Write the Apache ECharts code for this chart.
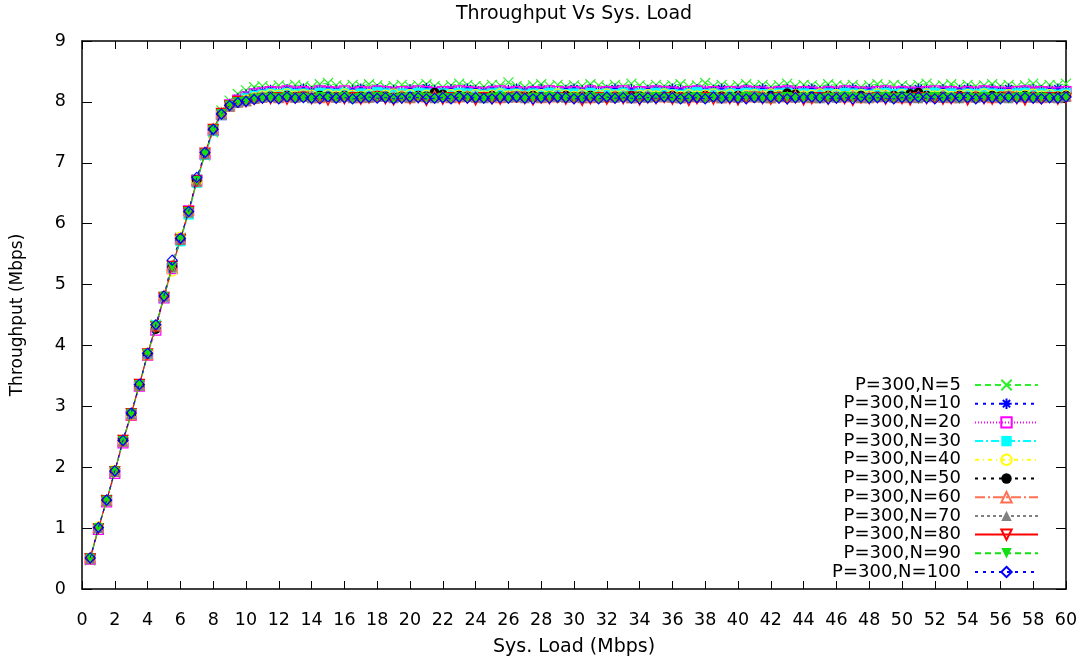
<!DOCTYPE html>
<html>
<head>
<meta charset="utf-8">
<script src="https://cdn.jsdelivr.net/npm/echarts@6/dist/echarts.min.js"></script>
<style>html,body{margin:0;padding:0;background:#fff}#c{width:1089px;height:662px}</style>
</head>
<body>
<div id="c"></div>
<script>
const titleText = 'Throughput Vs Sys. Load';
const xName = 'Sys. Load (Mbps)';
const yName = 'Throughput (Mbps)';
const seriesNames = ['P=300,N=5','P=300,N=10','P=300,N=20','P=300,N=30','P=300,N=40','P=300,N=50','P=300,N=60','P=300,N=70','P=300,N=80','P=300,N=90','P=300,N=100'];

const loads = [0.5,1,1.5,2,2.5,3,3.5,4,4.5,5,5.5,6,6.5,7,7.5,8,8.5,9,9.5,10,
10.5,11,11.5,12,12.5,13,13.5,14,14.5,15,15.5,16,16.5,17,17.5,18,18.5,19,19.5,20,
20.5,21,21.5,22,22.5,23,23.5,24,24.5,25,25.5,26,26.5,27,27.5,28,28.5,29,29.5,30,
30.5,31,31.5,32,32.5,33,33.5,34,34.5,35,35.5,36,36.5,37,37.5,38,38.5,39,39.5,40,
40.5,41,41.5,42,42.5,43,43.5,44,44.5,45,45.5,46,46.5,47,47.5,48,48.5,49,49.5,50,
50.5,51,51.5,52,52.5,53,53.5,54,54.5,55,55.5,56,56.5,57,57.5,58,58.5,59,59.5,60];

const n5 = [0.47,0.98,1.47,1.91,2.45,2.86,3.37,3.84,4.34,4.78,5.27,5.77,6.16,6.73,7.12,7.50,7.86,8.02,8.13,
8.19,8.24,8.26,8.23,8.27,8.25,8.28,8.26,8.24,8.29,
8.31,8.27,8.25,8.28,8.26,8.29,8.27,8.24,8.26,8.28,
8.25,8.27,8.29,8.26,8.24,8.27,8.30,8.28,8.26,8.25,
8.28,8.27,8.32,8.26,8.24,8.27,8.29,8.26,8.28,8.25,
8.27,8.26,8.29,8.27,8.24,8.28,8.26,8.30,8.27,8.25,
8.28,8.26,8.27,8.29,8.25,8.27,8.31,8.26,8.28,8.24,
8.27,8.29,8.26,8.28,8.25,8.27,8.30,8.26,8.28,8.27,
8.25,8.29,8.27,8.26,8.28,8.24,8.27,8.29,8.26,8.28,
8.27,8.25,8.28,8.30,8.26,8.27,8.29,8.25,8.28,8.26,
8.27,8.29,8.26,8.28,8.25,8.27,8.30,8.26,8.28,8.27,8.30];

const n10 = [0.50,1.01,1.44,1.94,2.42,2.89,3.34,3.87,4.31,4.81,5.30,5.72,6.20,6.68,7.16,7.55,7.81,7.97,8.06,
8.12,8.16,8.18,8.20,8.17,8.21,8.19,8.22,8.18,8.20,
8.21,8.19,8.17,8.20,8.22,8.18,8.21,8.19,8.20,8.17,
8.21,8.19,8.23,8.20,8.18,8.21,8.19,8.22,8.20,8.18,
8.21,8.19,8.20,8.22,8.18,8.20,8.21,8.19,8.17,8.20,
8.22,8.19,8.21,8.18,8.20,8.22,8.19,8.21,8.18,8.20,
8.21,8.19,8.22,8.20,8.18,8.21,8.19,8.20,8.22,8.18,
8.20,8.21,8.19,8.22,8.18,8.20,8.21,8.19,8.20,8.22,
8.18,8.21,8.19,8.20,8.22,8.18,8.21,8.19,8.20,8.17,
8.21,8.19,8.22,8.20,8.18,8.21,8.19,8.20,8.22,8.18,
8.20,8.21,8.19,8.22,8.18,8.20,8.21,8.19,8.20,8.22,8.19];

const n20 = [0.49,0.98,1.43,1.90,2.40,2.85,3.33,3.84,4.25,4.78,5.26,5.75,6.21,6.71,7.14,7.53,7.79,7.95,8.03,
8.08,8.13,8.15,8.17,8.16,8.18,8.16,8.17,8.15,8.18,
8.17,8.16,8.18,8.15,8.17,8.16,8.18,8.17,8.15,8.17,
8.16,8.18,8.17,8.15,8.17,8.16,8.18,8.17,8.16,8.15,
8.17,8.18,8.16,8.17,8.15,8.17,8.16,8.18,8.17,8.16,
8.17,8.15,8.18,8.16,8.17,8.16,8.18,8.15,8.17,8.16,
8.18,8.17,8.16,8.15,8.17,8.18,8.16,8.17,8.15,8.17,
8.16,8.18,8.17,8.16,8.15,8.17,8.18,8.16,8.17,8.16,
8.15,8.17,8.16,8.18,8.17,8.16,8.15,8.17,8.18,8.16,
8.17,8.16,8.15,8.17,8.18,8.16,8.17,8.15,8.17,8.16,
8.18,8.17,8.16,8.15,8.17,8.18,8.16,8.17,8.16,8.15,8.17];

const n30 = [0.51,1.00,1.46,1.93,2.44,2.88,3.36,3.86,4.33,4.79,5.28,5.71,6.15,6.67,7.13,7.52,7.78,7.93,8.01,
8.06,8.10,8.12,8.14,8.13,8.15,8.13,8.14,8.12,8.15,
8.14,8.13,8.15,8.12,8.14,8.13,8.16,8.14,8.12,8.14,
8.13,8.15,8.14,8.12,8.14,8.13,8.15,8.14,8.13,8.12,
8.14,8.15,8.13,8.14,8.12,8.14,8.13,8.15,8.14,8.13,
8.14,8.12,8.15,8.13,8.14,8.13,8.15,8.12,8.14,8.13,
8.15,8.14,8.13,8.12,8.14,8.16,8.13,8.14,8.12,8.14,
8.13,8.15,8.14,8.13,8.12,8.14,8.15,8.13,8.14,8.13,
8.12,8.14,8.13,8.15,8.14,8.13,8.12,8.14,8.15,8.13,
8.14,8.13,8.12,8.14,8.15,8.13,8.14,8.12,8.14,8.13,
8.15,8.14,8.13,8.12,8.14,8.15,8.13,8.14,8.13,8.12,8.14];

const n40 = [0.50,1.02,1.45,1.95,2.43,2.87,3.35,3.88,4.31,4.80,5.22,5.78,6.18,6.69,7.16,7.56,7.80,7.94,8.00,
8.03,8.07,8.10,8.12,8.11,8.13,8.10,8.12,8.11,8.09,
8.12,8.10,8.13,8.11,8.09,8.12,8.10,8.11,8.13,8.10,
8.12,8.09,8.11,8.13,8.10,8.12,8.11,8.09,8.12,8.10,
8.11,8.13,8.10,8.12,8.09,8.11,8.12,8.10,8.13,8.11,
8.09,8.12,8.10,8.11,8.13,8.10,8.12,8.09,8.11,8.12,
8.10,8.13,8.11,8.09,8.12,8.10,8.11,8.13,8.10,8.12,
8.09,8.11,8.12,8.10,8.13,8.11,8.09,8.12,8.10,8.11,
8.13,8.10,8.12,8.09,8.11,8.12,8.10,8.13,8.11,8.09,
8.12,8.10,8.11,8.13,8.10,8.12,8.09,8.11,8.12,8.10,
8.13,8.11,8.09,8.12,8.10,8.11,8.13,8.10,8.12,8.09,8.11];

const n50 = [0.50,1.00,1.45,1.93,2.45,2.88,3.33,3.86,4.27,4.81,5.29,5.74,6.19,6.72,7.15,7.55,7.80,7.95,7.98,
8.02,8.05,8.07,8.09,8.08,8.10,8.08,8.09,8.07,8.10,
8.09,8.08,8.10,8.07,8.09,8.08,8.10,8.09,8.07,8.09,
8.08,8.10,8.09,8.15,8.12,8.08,8.10,8.09,8.07,8.08,
8.10,8.09,8.08,8.07,8.09,8.10,8.08,8.09,8.07,8.10,
8.08,8.09,8.10,8.08,8.07,8.09,8.08,8.10,8.09,8.08,
8.07,8.09,8.10,8.08,8.09,8.07,8.10,8.08,8.09,8.08,
8.10,8.09,8.07,8.08,8.10,8.09,8.14,8.12,8.08,8.09,
8.07,8.10,8.08,8.09,8.08,8.10,8.07,8.09,8.08,8.10,
8.09,8.13,8.15,8.10,8.08,8.09,8.07,8.10,8.08,8.09,
8.08,8.10,8.09,8.07,8.08,8.10,8.09,8.08,8.07,8.09,8.10];

const n60 = [0.52,1.01,1.46,1.94,2.43,2.86,3.35,3.85,4.32,4.82,5.31,5.75,6.22,6.70,7.17,7.56,7.82,7.93,8.00,
8.02,8.06,8.08,8.09,8.07,8.10,8.08,8.09,8.10,8.07,
8.09,8.08,8.10,8.09,8.07,8.08,8.10,8.09,8.08,8.10,
8.07,8.09,8.08,8.10,8.09,8.07,8.08,8.10,8.09,8.08,
8.10,8.07,8.09,8.08,8.10,8.09,8.07,8.08,8.10,8.09,
8.08,8.10,8.07,8.09,8.08,8.10,8.09,8.07,8.08,8.10,
8.09,8.08,8.10,8.07,8.09,8.08,8.10,8.09,8.07,8.08,
8.10,8.09,8.08,8.10,8.07,8.09,8.08,8.10,8.09,8.07,
8.08,8.10,8.09,8.08,8.10,8.07,8.09,8.08,8.10,8.09,
8.07,8.08,8.10,8.09,8.08,8.10,8.07,8.09,8.08,8.10,
8.09,8.07,8.08,8.10,8.09,8.08,8.10,8.07,8.09,8.08,8.10];

const n70 = [0.49,1.00,1.44,1.92,2.42,2.87,3.34,3.87,4.33,4.80,5.28,5.73,6.18,6.69,7.14,7.53,7.79,7.92,7.99,
8.01,8.05,8.07,8.08,8.07,8.09,8.07,8.08,8.06,8.09,
8.08,8.07,8.09,8.06,8.08,8.07,8.09,8.08,8.06,8.08,
8.07,8.09,8.08,8.06,8.08,8.07,8.09,8.08,8.07,8.06,
8.08,8.09,8.07,8.08,8.06,8.08,8.07,8.09,8.08,8.07,
8.08,8.06,8.09,8.07,8.08,8.07,8.09,8.06,8.08,8.07,
8.09,8.08,8.07,8.06,8.08,8.09,8.07,8.08,8.06,8.08,
8.07,8.09,8.08,8.07,8.06,8.08,8.09,8.07,8.08,8.07,
8.06,8.08,8.07,8.09,8.08,8.07,8.06,8.08,8.09,8.07,
8.08,8.07,8.06,8.08,8.09,8.07,8.08,8.06,8.08,8.07,
8.09,8.08,8.07,8.06,8.08,8.09,8.07,8.08,8.07,8.06,8.08];

const n80 = [0.50,0.99,1.45,1.93,2.44,2.88,3.36,3.86,4.31,4.79,5.30,5.74,6.20,6.70,7.16,7.55,7.81,7.94,8.01,
8.00,8.04,8.06,8.05,8.07,8.04,8.06,8.08,8.05,8.07,
8.03,8.06,8.05,8.07,8.04,8.06,8.08,8.05,8.03,8.06,
8.05,8.07,8.02,8.06,8.04,8.07,8.05,8.06,8.03,8.07,
8.05,8.04,8.06,8.08,8.05,8.03,8.06,8.05,8.07,8.04,
8.06,8.02,8.05,8.07,8.04,8.06,8.05,8.08,8.03,8.06,
8.05,8.07,8.04,8.06,8.02,8.05,8.07,8.04,8.06,8.05,
8.03,8.06,8.08,8.05,8.04,8.07,8.05,8.06,8.03,8.05,
8.07,8.04,8.06,8.05,8.02,8.06,8.05,8.07,8.04,8.06,
8.05,8.03,8.07,8.05,8.06,8.04,8.05,8.07,8.03,8.06,
8.05,8.04,8.06,8.08,8.05,8.03,8.06,8.05,8.07,8.04,8.06];

const n90 = [0.50,1.00,1.45,1.93,2.43,2.88,3.35,3.86,4.32,4.80,5.29,5.74,6.19,6.70,7.15,7.54,7.80,7.94,8.00,
8.01,8.05,8.06,8.07,8.06,8.08,8.06,8.07,8.05,8.08,
8.07,8.06,8.08,8.05,8.07,8.06,8.08,8.07,8.05,8.07,
8.06,8.08,8.07,8.05,8.07,8.06,8.08,8.07,8.06,8.05,
8.07,8.08,8.06,8.07,8.05,8.07,8.06,8.08,8.07,8.06,
8.07,8.05,8.08,8.06,8.07,8.06,8.08,8.05,8.07,8.06,
8.08,8.07,8.06,8.05,8.07,8.08,8.06,8.07,8.05,8.07,
8.06,8.08,8.07,8.06,8.05,8.07,8.08,8.06,8.07,8.06,
8.05,8.07,8.06,8.08,8.07,8.06,8.05,8.07,8.08,8.06,
8.07,8.06,8.05,8.07,8.08,8.06,8.07,8.05,8.07,8.06,
8.08,8.07,8.06,8.05,8.07,8.08,8.06,8.07,8.06,8.05,8.07];

const n100 = [0.51,1.01,1.46,1.94,2.44,2.89,3.36,3.87,4.34,4.81,5.40,5.76,6.20,6.76,7.17,7.55,7.80,7.94,7.99,
8.01,8.04,8.06,8.07,8.05,8.08,8.06,8.07,8.06,8.05,
8.08,8.06,8.07,8.05,8.06,8.08,8.06,8.07,8.05,8.06,
8.08,8.07,8.05,8.06,8.07,8.05,8.08,8.06,8.07,8.06,
8.05,8.07,8.06,8.08,8.06,8.05,8.07,8.06,8.08,8.07,
8.05,8.06,8.07,8.05,8.08,8.06,8.07,8.06,8.05,8.07,
8.06,8.08,8.07,8.05,8.06,8.07,8.05,8.08,8.06,8.07,
8.06,8.05,8.07,8.06,8.08,8.06,8.05,8.07,8.06,8.08,
8.07,8.05,8.06,8.07,8.05,8.08,8.06,8.07,8.06,8.05,
8.07,8.06,8.08,8.06,8.05,8.07,8.06,8.08,8.07,8.05,
8.06,8.07,8.05,8.08,8.06,8.07,8.06,8.05,8.07,8.06,8.08];

const seriesValues = [n5,n10,n20,n30,n40,n50,n60,n70,n80,n90,n100];

const FONT = 'DejaVu Sans';
const CLEAR = 'rgba(0,0,0,0)';
const SYM_X = 'path://M0,0L10,10M10,0L0,10';
const SYM_STAR = 'path://M0,5L10,5M5,0L5,10M1.5,1.5L8.5,8.5M8.5,1.5L1.5,8.5';
const SYM_TRI = 'path://M5,0L10,9L0,9Z';
const SYM_ITRI = 'path://M0,0L10,0L5,9Z';
const SYM_DIA = 'path://M5,0L10,5L5,10L0,5Z';
const SYM_SQ = 'path://M0,0L10,0L10,10L0,10Z';

// color, dash, symbol, filled
const styles = [
  ['#2cf02c', [6,4], SYM_X, false],
  ['#0000ff', [3,5], SYM_STAR, false],
  ['#ff00ff', [1,2], SYM_SQ, false],
  ['#00ffff', [8,3,2,3], SYM_SQ, true],
  ['#ffff00', [4,4,1,4], 'circle', false],
  ['#000000', [3,5], 'circle', true],
  ['#ff7050', [10,3,2,3], SYM_TRI, false],
  ['#808080', [3,3], SYM_TRI, true],
  ['#ff0000', 'solid', SYM_ITRI, false],
  ['#10e010', [6,4], SYM_ITRI, true],
  ['#0000ff', [3,5], SYM_DIA, false]
];

const series = seriesNames.map((name, i) => {
  const [c, dash, sym, filled] = styles[i];
  return {
    name: name,
    type: 'line',
    data: loads.map((x, j) => [x, seriesValues[i][j]]),
    symbol: sym,
    symbolSize: 10,
    showAllSymbol: true,
    lineStyle: { color: c, width: 1, type: dash },
    itemStyle: filled ? { color: c, borderColor: c, borderWidth: 0 }
                      : { color: CLEAR, borderColor: c, borderWidth: 1.2 },
    emphasis: { disabled: true },
    animation: false,
    z: 2 + i
  };
});

const chart = echarts.init(document.getElementById('c'));
chart.setOption({
  animation: false,
  backgroundColor: '#fff',
  title: {
    text: titleText,
    left: 574, top: 5, padding: 0,
    textAlign: 'center',
    textStyle: { fontFamily: FONT, fontSize: 19, fontWeight: 'normal', color: '#000' }
  },
  grid: { left: 82, top: 41, right: 23, bottom: 73, containLabel: false },
  legend: {
    orient: 'vertical',
    align: 'right',
    right: 50, top: 376, padding: 0,
    itemWidth: 63, itemHeight: 13, itemGap: 0.7,
    selectedMode: false,
    data: seriesNames,
    textStyle: { fontFamily: FONT, fontSize: 18, color: '#000', padding: [0, 9, 0, 0] }
  },
  xAxis: [{
    type: 'value', min: 0, max: 60, interval: 2,
    name: xName, nameLocation: 'middle', nameGap: 49,
    nameTextStyle: { fontFamily: FONT, fontSize: 19, color: '#000' },
    axisLine: { show: true, onZero: false, lineStyle: { color: '#000', width: 1.5 } },
    axisTick: { show: true, inside: true, length: 8, lineStyle: { color: '#000', width: 1 } },
    axisLabel: { fontFamily: FONT, fontSize: 17.5, color: '#000', margin: 22 },
    splitLine: { show: false }
  }, {
    type: 'value', min: 0, max: 60, interval: 2, position: 'top',
    axisLine: { show: true, onZero: false, lineStyle: { color: '#000', width: 1.5 } },
    axisTick: { show: true, inside: true, length: 8, lineStyle: { color: '#000', width: 1 } },
    axisLabel: { show: false },
    splitLine: { show: false }
  }],
  yAxis: [{
    type: 'value', min: 0, max: 9, interval: 1,
    name: yName, nameLocation: 'middle', nameGap: 56, nameRotate: 90,
    nameTextStyle: { fontFamily: FONT, fontSize: 17, color: '#000' },
    axisLine: { show: true, onZero: false, lineStyle: { color: '#000', width: 1.5 } },
    axisTick: { show: true, inside: true, length: 10, lineStyle: { color: '#000', width: 1 } },
    axisLabel: { fontFamily: FONT, fontSize: 17.5, color: '#000', margin: 16 },
    splitLine: { show: false }
  }, {
    type: 'value', min: 0, max: 9, interval: 1, position: 'right',
    axisLine: { show: true, onZero: false, lineStyle: { color: '#000', width: 1.5 } },
    axisTick: { show: true, inside: true, length: 10, lineStyle: { color: '#000', width: 1 } },
    axisLabel: { show: false },
    splitLine: { show: false }
  }],
  series: series
});
</script>
</body>
</html>
